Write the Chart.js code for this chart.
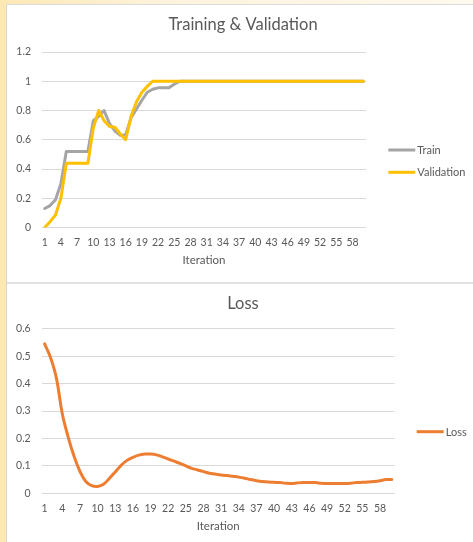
<!DOCTYPE html>
<html>
<head>
<meta charset="utf-8">
<script src="https://cdn.jsdelivr.net/npm/chart.js@4/dist/chart.umd.min.js"></script>
<style>
  html, body { margin: 0; padding: 0; width: 473px; height: 542px; overflow: hidden; background: #ffffff; }
  #edgeLeft { position: absolute; left: 0; top: 0; width: 6px; height: 542px; background: #fde8b4; }
  #edgeTop { position: absolute; left: 0; top: 0; width: 473px; height: 4px;
             background: linear-gradient(90deg, #fde8b4 0%, #fdf3dc 35%, #fef9ee 100%); }
  #edgeLeftLine { position: absolute; left: 6px; top: 4px; width: 1px; height: 538px; background: #d6d6d6; }
  #edgeTopLine { position: absolute; left: 6px; top: 4px; width: 467px; height: 1px; background: #dcdcdc; }
  #divider { position: absolute; left: 7px; top: 282px; width: 466px; height: 2px; background: #e2e2e2; }
  canvas { position: absolute; }
  #accChart { left: 8px; top: 5px; }
  #lossChart { left: 8px; top: 284px; }
</style>
</head>
<body>
<div id="edgeLeft"></div>
<div id="edgeTop"></div>
<div id="edgeLeftLine"></div>
<div id="edgeTopLine"></div>
<div id="divider"></div>
<canvas id="accChart" width="465" height="277"></canvas>
<canvas id="lossChart" width="465" height="258"></canvas>
<script>
// Iterations 1..60
const iterations = [
  1, 2, 3, 4, 5, 6, 7, 8, 9, 10,
  11, 12, 13, 14, 15, 16, 17, 18, 19, 20,
  21, 22, 23, 24, 25, 26, 27, 28, 29, 30,
  31, 32, 33, 34, 35, 36, 37, 38, 39, 40,
  41, 42, 43, 44, 45, 46, 47, 48, 49, 50,
  51, 52, 53, 54, 55, 56, 57, 58, 59, 60
];

const trainAcc = [
  0.13, 0.15, 0.19, 0.30, 0.52, 0.52, 0.52, 0.52, 0.52, 0.73,
  0.76, 0.80, 0.71, 0.66, 0.63, 0.635, 0.75, 0.81, 0.87, 0.925,
  0.945, 0.955, 0.955, 0.955, 0.98, 1, 1, 1, 1, 1,
  1, 1, 1, 1, 1, 1, 1, 1, 1, 1,
  1, 1, 1, 1, 1, 1, 1, 1, 1, 1,
  1, 1, 1, 1, 1, 1, 1, 1, 1, 1
];

const validationAcc = [
  0, 0.04, 0.085, 0.20, 0.44, 0.44, 0.44, 0.44, 0.44, 0.68,
  0.80, 0.73, 0.69, 0.685, 0.64, 0.60, 0.76, 0.86, 0.925, 0.965,
  1, 1, 1, 1, 1, 1, 1, 1, 1, 1,
  1, 1, 1, 1, 1, 1, 1, 1, 1, 1,
  1, 1, 1, 1, 1, 1, 1, 1, 1, 1,
  1, 1, 1, 1, 1, 1, 1, 1, 1, 1
];

const lossValues = [
  0.545, 0.495, 0.42, 0.29, 0.205, 0.135, 0.08, 0.043, 0.028, 0.025,
  0.033, 0.054, 0.078, 0.102, 0.12, 0.131, 0.139, 0.143, 0.143, 0.14,
  0.133, 0.125, 0.117, 0.109, 0.1, 0.091, 0.085, 0.079, 0.073, 0.07,
  0.067, 0.065, 0.062, 0.059, 0.055, 0.05, 0.046, 0.043, 0.041, 0.04,
  0.039, 0.037, 0.036, 0.038, 0.039, 0.039, 0.039, 0.037, 0.036, 0.036,
  0.036, 0.036, 0.037, 0.039, 0.04, 0.041, 0.043, 0.046, 0.05, 0.05
];

const accTicks = [0, 0.2, 0.4, 0.6, 0.8, 1, 1.2];
const lossTicks = [0, 0.1, 0.2, 0.3, 0.4, 0.5, 0.6];

const FONT = 'Lato, "Open Sans", sans-serif';
const TEXT = '#595959';
const GRID = '#d9d9d9';
const GRAY = '#a5a5a5';
const GOLD = '#ffc000';
const ORANGE = '#ed7d31';

// Draws the chart heading and a right-hand legend at fixed spots
const headingAndLegend = {
  id: 'headingAndLegend',
  afterDraw(chart, args, opts) {
    const ctx = chart.ctx;
    ctx.save();
    ctx.fillStyle = TEXT;
    ctx.font = '16.5px ' + FONT;
    ctx.textAlign = 'center';
    ctx.textBaseline = 'middle';
    ctx.fillText(opts.title, opts.titleX, opts.titleY);
    ctx.font = '11px ' + FONT;
    ctx.textAlign = 'left';
    chart.data.datasets.forEach((ds, i) => {
      const y = opts.legendY + i * opts.legendGap;
      ctx.strokeStyle = ds.borderColor;
      ctx.lineWidth = 3;
      ctx.lineCap = 'butt';
      ctx.beginPath();
      ctx.moveTo(opts.legendX, y);
      ctx.lineTo(opts.legendX + 27, y);
      ctx.stroke();
      ctx.fillStyle = TEXT;
      ctx.fillText(ds.label, opts.legendX + 29, y + 0.5);
    });
    ctx.restore();
  }
};

function makeChart(id, cfg) {
  return new Chart(document.getElementById(id), {
    type: 'line',
    data: { labels: iterations, datasets: cfg.datasets },
    plugins: [headingAndLegend],
    options: {
      responsive: false,
      animation: false,
      devicePixelRatio: 1,
      layout: { padding: { left: 0, top: cfg.padTop, right: cfg.padRight, bottom: 0 } },
      elements: { point: { radius: 0, hoverRadius: 0 } },
      plugins: {
        legend: { display: false },
        title: { display: false },
        tooltip: { enabled: false },
        headingAndLegend: cfg.decor
      },
      scales: {
        x: {
          type: 'category',
          offset: true,
          grid: { display: false, drawTicks: false },
          border: { display: false },
          ticks: {
            autoSkip: false,
            maxRotation: 0,
            padding: 9,
            color: TEXT,
            font: { family: FONT, size: 10.5 },
            callback: function (value, index) {
              return index % 3 === 0 ? String(iterations[index]) : '';
            }
          },
          title: {
            display: true,
            text: 'Iteration',
            color: TEXT,
            font: { family: FONT, size: 11.5 },
            padding: { top: 0, bottom: cfg.xTitlePad }
          },
          afterFit: function (scale) { scale.height = cfg.xHeight; }
        },
        y: {
          min: cfg.yTicks[0],
          max: cfg.yTicks[cfg.yTicks.length - 1],
          afterBuildTicks: function (scale) {
            scale.ticks = cfg.yTicks.map(v => ({ value: v }));
          },
          grid: { color: GRID, lineWidth: 1, drawTicks: false },
          border: { display: false },
          ticks: {
            padding: 11,
            color: TEXT,
            font: { family: FONT, size: 10.5 },
            callback: function (value) { return String(Number(value.toFixed(2))); }
          },
          afterFit: function (scale) { scale.width = cfg.yWidth; }
        }
      }
    }
  });
}

makeChart('accChart', {
  padTop: 47,
  padRight: 107,
  xHeight: 54.5,
  xTitlePad: 14.4,
  yWidth: 34,
  yTicks: accTicks,
  decor: { title: 'Training & Validation', titleX: 235, titleY: 20,
           legendX: 380.3, legendY: 145, legendGap: 22.3 },
  datasets: [
    { label: 'Train', data: trainAcc, borderColor: GRAY, borderWidth: 3, order: 1,
      borderJoinStyle: 'round', borderCapStyle: 'round', tension: 0, fill: false },
    { label: 'Validation', data: validationAcc, borderColor: GOLD, borderWidth: 3, order: 0,
      borderJoinStyle: 'round', borderCapStyle: 'round', tension: 0, fill: false }
  ]
});

makeChart('lossChart', {
  padTop: 44.7,
  padRight: 78.3,
  xHeight: 48.7,
  xTitlePad: 9.1,
  yWidth: 33.7,
  yTicks: lossTicks,
  decor: { title: 'Loss', titleX: 235, titleY: 19.3,
           legendX: 408.7, legendY: 147.7, legendGap: 0 },
  datasets: [
    { label: 'Loss', data: lossValues, borderColor: ORANGE, borderWidth: 3,
      borderJoinStyle: 'round', borderCapStyle: 'round', tension: 0.4, fill: false }
  ]
});
</script>
</body>
</html>
